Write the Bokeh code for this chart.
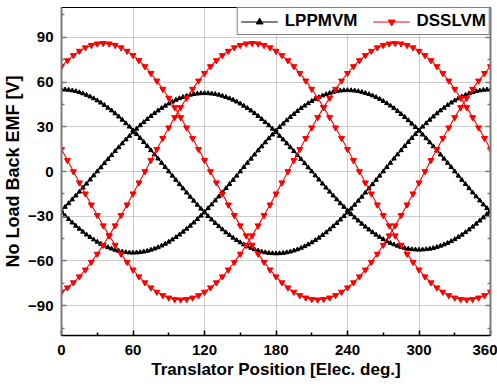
from bokeh.plotting import figure
from bokeh.models import Range1d, FixedTicker, LinearAxis, Legend, LegendItem
from bokeh.embed import file_html
from bokeh.resources import INLINE

# Translator position [elec. deg.]
x_lpp = list(range(0, 361, 3))
x_dss = list(range(0, 361, 5))

# LPPMVM three-phase no-load back EMF [V]
lpp_a = [55.0, 54.9, 54.7, 54.3, 53.8, 53.1, 52.3, 51.3, 50.2, 49.0, 47.6, 46.1, 44.5, 42.7, 40.9, 38.9, 36.8, 34.6, 32.3, 30.0, 27.5, 25.0, 22.4, 19.7, 17.0, 14.2, 11.4, 8.6, 5.7, 2.9, 0.0,
         -2.9, -5.7, -8.6, -11.4, -14.2, -17.0, -19.7, -22.4, -25.0, -27.5, -30.0, -32.3, -34.6, -36.8, -38.9, -40.9, -42.7, -44.5, -46.1, -47.6, -49.0, -50.2, -51.3, -52.3, -53.1, -53.8, -54.3, -54.7, -54.9, -55.0,
         -54.9, -54.7, -54.3, -53.8, -53.1, -52.3, -51.3, -50.2, -49.0, -47.6, -46.1, -44.5, -42.7, -40.9, -38.9, -36.8, -34.6, -32.3, -30.0, -27.5, -25.0, -22.4, -19.7, -17.0, -14.2, -11.4, -8.6, -5.7, -2.9, 0.0,
         2.9, 5.7, 8.6, 11.4, 14.2, 17.0, 19.7, 22.4, 25.0, 27.5, 30.0, 32.3, 34.6, 36.8, 38.9, 40.9, 42.7, 44.5, 46.1, 47.6, 49.0, 50.2, 51.3, 52.3, 53.1, 53.8, 54.3, 54.7, 54.9, 55.0]
lpp_b = [-26.3, -23.8, -21.4, -18.8, -16.2, -13.6, -10.9, -8.2, -5.5, -2.7, 0.0,
         2.7, 5.5, 8.2, 10.9, 13.6, 16.2, 18.8, 21.4, 23.8, 26.3,
         28.6, 30.9, 33.0, 35.1, 37.1, 39.0, 40.8, 42.5, 44.0, 45.5,
         46.8, 48.0, 49.0, 49.9, 50.7, 51.4, 51.9, 52.2, 52.4, 52.5,
         52.4, 52.2, 51.9, 51.4, 50.7, 49.9, 49.0, 48.0, 46.8, 45.5,
         44.0, 42.5, 40.8, 39.0, 37.1, 35.1, 33.0, 30.9, 28.6, 26.3,
         23.8, 21.4, 18.8, 16.2, 13.6, 10.9, 8.2, 5.5, 2.7, 0.0,
         -2.7, -5.5, -8.2, -10.9, -13.6, -16.2, -18.8, -21.4, -23.8, -26.3,
         -28.6, -30.9, -33.0, -35.1, -37.1, -39.0, -40.8, -42.5, -44.0, -45.5,
         -46.8, -48.0, -49.0, -49.9, -50.7, -51.4, -51.9, -52.2, -52.4, -52.5,
         -52.4, -52.2, -51.9, -51.4, -50.7, -49.9, -49.0, -48.0, -46.8, -45.5,
         -44.0, -42.5, -40.8, -39.0, -37.1, -35.1, -33.0, -30.9, -28.6, -26.3]
lpp_c = [-27.3, -29.7, -32.0, -34.3, -36.5, -38.5, -40.5, -42.4, -44.1, -45.7, -47.2,
         -48.6, -49.8, -50.9, -51.8, -52.6, -53.3, -53.8, -54.2, -54.4, -54.5,
         -54.4, -54.2, -53.8, -53.3, -52.6, -51.8, -50.9, -49.8, -48.6, -47.2,
         -45.7, -44.1, -42.4, -40.5, -38.5, -36.5, -34.3, -32.0, -29.7, -27.3,
         -24.7, -22.2, -19.5, -16.8, -14.1, -11.3, -8.5, -5.7, -2.9, 0.0,
         2.9, 5.7, 8.5, 11.3, 14.1, 16.8, 19.5, 22.2, 24.7, 27.3,
         29.7, 32.0, 34.3, 36.5, 38.5, 40.5, 42.4, 44.1, 45.7, 47.2,
         48.6, 49.8, 50.9, 51.8, 52.6, 53.3, 53.8, 54.2, 54.4, 54.5,
         54.4, 54.2, 53.8, 53.3, 52.6, 51.8, 50.9, 49.8, 48.6, 47.2,
         45.7, 44.1, 42.4, 40.5, 38.5, 36.5, 34.3, 32.0, 29.7, 27.3,
         24.7, 22.2, 19.5, 16.8, 14.1, 11.3, 8.5, 5.7, 2.9, 0.0,
         -2.9, -5.7, -8.5, -11.3, -14.1, -16.8, -19.5, -22.2, -24.7, -27.3]

# DSSLVM three-phase no-load back EMF [V]
dss_a = [70.5, 74.5, 77.9, 80.8, 83.1, 84.7, 85.7, 86.0, 85.7, 84.7, 83.1, 80.8, 77.9, 74.5, 70.5, 65.9, 60.8, 55.3, 49.3, 43.0, 36.3, 29.4, 22.3, 14.9, 7.5, 0.0,
         -7.5, -14.9, -22.3, -29.4, -36.3, -43.0, -49.3, -55.3, -60.8, -65.9, -70.5, -74.5, -77.9, -80.8, -83.1, -84.7, -85.7, -86.0,
         -85.7, -84.7, -83.1, -80.8, -77.9, -74.5, -70.5, -65.9, -60.8, -55.3, -49.3, -43.0, -36.3, -29.4, -22.3, -14.9, -7.5, 0.0,
         7.5, 14.9, 22.3, 29.4, 36.3, 43.0, 49.3, 55.3, 60.8, 65.9, 70.5]
dss_b = [14.9, 7.5, 0.0,
         -7.5, -14.9, -22.3, -29.4, -36.3, -43.0, -49.3, -55.3, -60.8, -65.9, -70.5, -74.5, -77.9, -80.8, -83.1, -84.7, -85.7, -86.0,
         -85.7, -84.7, -83.1, -80.8, -77.9, -74.5, -70.5, -65.9, -60.8, -55.3, -49.3, -43.0, -36.3, -29.4, -22.3, -14.9, -7.5, 0.0,
         7.5, 14.9, 22.3, 29.4, 36.3, 43.0, 49.3, 55.3, 60.8, 65.9, 70.5, 74.5, 77.9, 80.8, 83.1, 84.7, 85.7, 86.0,
         85.7, 84.7, 83.1, 80.8, 77.9, 74.5, 70.5, 65.9, 60.8, 55.3, 49.3, 43.0, 36.3, 29.4, 22.3, 14.9]
dss_c = [-80.8, -77.9, -74.5, -70.5, -65.9, -60.8, -55.3, -49.3, -43.0, -36.3, -29.4, -22.3, -14.9, -7.5, 0.0,
         7.5, 14.9, 22.3, 29.4, 36.3, 43.0, 49.3, 55.3, 60.8, 65.9, 70.5, 74.5, 77.9, 80.8, 83.1, 84.7, 85.7, 86.0,
         85.7, 84.7, 83.1, 80.8, 77.9, 74.5, 70.5, 65.9, 60.8, 55.3, 49.3, 43.0, 36.3, 29.4, 22.3, 14.9, 7.5, 0.0,
         -7.5, -14.9, -22.3, -29.4, -36.3, -43.0, -49.3, -55.3, -60.8, -65.9, -70.5, -74.5, -77.9, -80.8, -83.1, -84.7, -85.7, -86.0,
         -85.7, -84.7, -83.1, -80.8]

x_ticks = [0, 60, 120, 180, 240, 300, 360]
x_minor = [30, 90, 150, 210, 270, 330]
y_ticks = [-90, -60, -30, 0, 30, 60, 90]
y_minor = [-105, -75, -45, -15, 15, 45, 75, 105]

FONT = "Liberation Sans"

p = figure(width=497, height=390, output_backend="svg", toolbar_location=None,
           x_range=Range1d(0, 360), y_range=Range1d(-110, 110),
           min_border_left=59, min_border_right=7, min_border_top=7, min_border_bottom=55)
p.background_fill_color = "white"
p.border_fill_color = "white"
p.outline_line_color = "black"
p.outline_line_width = 1

xt = FixedTicker(ticks=x_ticks, minor_ticks=x_minor)
yt = FixedTicker(ticks=y_ticks, minor_ticks=y_minor)
p.xaxis.ticker = xt
p.yaxis.ticker = yt
p.xgrid.ticker = xt
p.ygrid.ticker = yt
for g in (p.xgrid, p.ygrid):
    g.grid_line_color = "#9a9a9a"
    g.grid_line_dash = "1 1"
    g.grid_line_width = 1

def style_axis(ax, color, width):
    ax.axis_line_color = color
    ax.axis_line_width = width
    ax.major_tick_line_color = color
    ax.minor_tick_line_color = color
    ax.major_tick_line_width = 1.5
    ax.minor_tick_line_width = 1.5
    ax.major_tick_in = 5
    ax.major_tick_out = 0
    ax.minor_tick_in = 3
    ax.minor_tick_out = 0
    ax.major_label_text_font = FONT
    ax.major_label_text_font_style = "bold"
    ax.major_label_text_font_size = "15px"
    ax.major_label_text_color = "black"
    ax.axis_label_text_font = FONT
    ax.axis_label_text_font_style = "bold"
    ax.axis_label_text_font_size = "17px"
    ax.axis_label_text_color = "black"

style_axis(p.xaxis[0], "black", 1.5)
style_axis(p.yaxis[0], "#7a7a7a", 2)
p.xaxis.axis_label = "Translator Position [Elec. deg.]"
p.yaxis.axis_label = "No Load Back EMF [V]"
p.yaxis.axis_label_text_font_size = "18px"
p.xaxis.major_label_standoff = 9
p.yaxis.major_label_standoff = 8
p.xaxis.axis_label_standoff = 2
p.yaxis.axis_label_standoff = 2

ra = LinearAxis(ticker=yt)
style_axis(ra, "#7a7a7a", 2)
ra.major_label_overrides = {t: "" for t in y_ticks}
ra.major_label_standoff = 0
p.add_layout(ra, "right")

BLACK = "black"
RED = "#ff0000"
r_items = {}
for i, ys in enumerate((lpp_a, lpp_b, lpp_c)):
    l = p.line(x_lpp, ys, line_color=BLACK, line_width=1.1)
    s = p.scatter(x_lpp, ys, marker="triangle", size=4.5, fill_color=BLACK, line_color=BLACK)
    if i == 0:
        r_items["LPPMVM"] = [l, s]
for i, ys in enumerate((dss_a, dss_b, dss_c)):
    l = p.line(x_dss, ys, line_color=RED, line_width=1.1)
    s = p.scatter(x_dss, ys, marker="inverted_triangle", size=6, fill_color=RED, line_color=RED)
    if i == 0:
        r_items["DSSLVM"] = [l, s]

legend = Legend(items=[LegendItem(label=k, renderers=v) for k, v in r_items.items()],
                orientation="horizontal", location="top_right", margin=0, padding=3,
                spacing=15, glyph_width=37, glyph_height=17, label_height=17,
                label_standoff=7, label_text_font=FONT, label_text_font_style="bold",
                label_text_font_size="17px", label_text_color="black",
                border_line_color="black", border_line_width=1.5,
                background_fill_color="white", background_fill_alpha=1)
p.add_layout(legend, "center")

open("out.html", "w").write(file_html(p, INLINE))
